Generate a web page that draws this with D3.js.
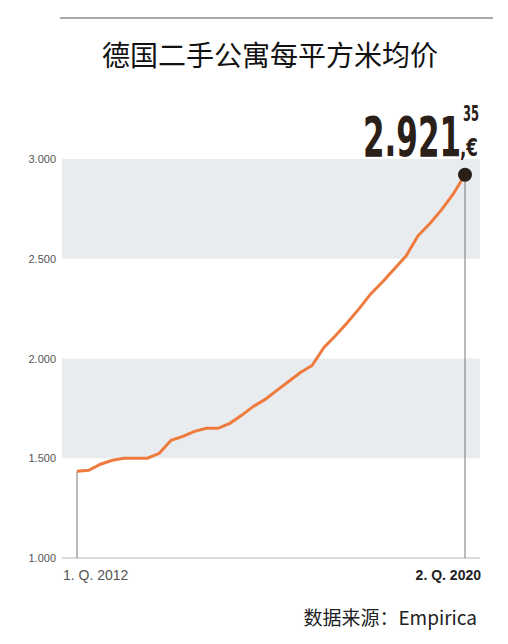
<!DOCTYPE html><html><head><meta charset="utf-8">
<script src="https://cdn.jsdelivr.net/npm/d3@7"></script>
<style>body{margin:0;background:#fff}</style></head><body>
<svg id="c" width="508" height="644"></svg>
<script>
const quarters = d3.range(34);
const values = [1435,1440,1470,1490,1500,1500,1500,1525,1590,1610,1635,1650,1650,1675,1715,1760,1795,1840,1885,1930,1965,2055,2115,2180,2250,2325,2385,2450,2515,2615,2675,2745,2825,2921.35];
const yTicks = [1000,1500,2000,2500,3000];
const bands = [[1500,2000],[2500,3000]];
const xLabels = ["1. Q. 2012","2. Q. 2020"];

const svg = d3.select("#c");
const x = d3.scaleLinear().domain([0,33]).range([77,465]);
const y = d3.scaleLinear().domain([1000,3000]).range([558,159]);
const fmt = v => d3.format(",")(v).replace(",",".");
const font = "'Liberation Sans',Arial,sans-serif";

svg.append("line").attr("x1",60).attr("x2",493).attr("y1",18).attr("y2",18).attr("stroke","#555").attr("stroke-width",1);
svg.append("text").attr("x",270).attr("y",66).attr("text-anchor","middle").attr("font-size",28)
  .attr("font-family","'Noto Sans CJK SC',sans-serif").attr("fill","#111").text("德国二手公寓每平方米均价");

svg.selectAll("rect.b").data(bands).enter().append("rect")
  .attr("x",62).attr("width",418).attr("y",d=>y(d[1])).attr("height",d=>y(d[0])-y(d[1])).attr("fill","#e8ecee");
svg.append("line").attr("x1",62).attr("x2",480).attr("y1",y(1000)).attr("y2",y(1000)).attr("stroke","#bbb");

svg.selectAll("text.t").data(yTicks).enter().append("text")
  .attr("x",56).attr("y",d=>y(d)+4).attr("text-anchor","end").attr("font-size",11).attr("font-family",font).attr("fill","#555").text(fmt);

svg.append("line").attr("x1",x(0)).attr("x2",x(0)).attr("y1",y(values[0])).attr("y2",y(1000)).attr("stroke","#777");
svg.append("line").attr("x1",x(33)).attr("x2",x(33)).attr("y1",y(values[33])).attr("y2",y(1000)).attr("stroke","#777");

svg.append("path").datum(values).attr("fill","none").attr("stroke","#ee7a3e").attr("stroke-width",3)
  .attr("d",d3.line().x((d,i)=>x(i)).y(d=>y(d)));
svg.append("circle").attr("cx",x(33)).attr("cy",y(values[33])).attr("r",7).attr("fill","#2b2018");

svg.append("text").attr("x",x(0)-14).attr("y",580).attr("font-size",14).attr("font-family",font).attr("fill","#555").text(xLabels[0]);
svg.append("text").attr("x",481).attr("y",580).attr("text-anchor","end").attr("font-size",14).attr("font-weight","bold").attr("font-family",font).attr("fill","#222").text(xLabels[1]);

const big = svg.append("g").attr("fill","#2b2018").attr("font-family","'DejaVu Sans Condensed','Liberation Sans Narrow',sans-serif").attr("font-weight","bold");
big.append("text").attr("x",461).attr("y",156).attr("text-anchor","end").attr("font-size",56).attr("textLength",98).attr("lengthAdjust","spacingAndGlyphs").text("2.921");
big.append("text").attr("x",463).attr("y",121).attr("font-size",21).attr("textLength",16).attr("lengthAdjust","spacingAndGlyphs").text("35");
big.append("text").attr("x",460).attr("y",156).attr("font-size",24).attr("textLength",18).attr("lengthAdjust","spacingAndGlyphs").text(",€");

svg.append("text").attr("x",477).attr("y",625).attr("text-anchor","end").attr("font-size",19)
  .attr("font-family","'Noto Sans CJK SC',sans-serif").attr("fill","#222").text("数据来源：Empirica");
</script></body></html>
